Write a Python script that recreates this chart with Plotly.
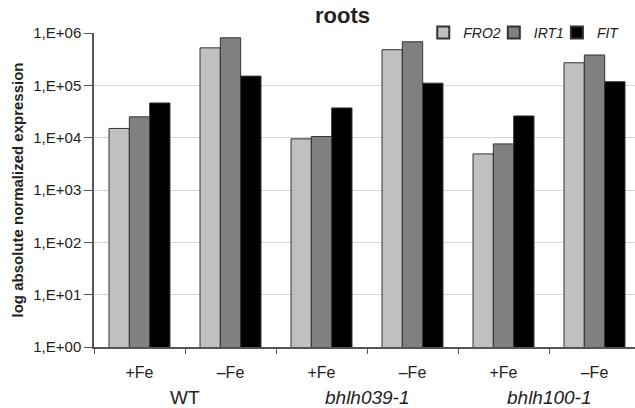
import plotly.graph_objects as go

categories = ["WT +Fe", "WT -Fe", "bhlh039-1 +Fe", "bhlh039-1 -Fe", "bhlh100-1 +Fe", "bhlh100-1 -Fe"]
tick_labels = ["+Fe", "–Fe", "+Fe", "–Fe", "+Fe", "–Fe"]
groups = ["WT", "bhlh039-1", "bhlh100-1"]
group_italic = [False, True, True]

FRO2 = [1.5e4, 5.2e5, 9.5e3, 4.8e5, 4.9e3, 2.7e5]
IRT1 = [2.5e4, 8.1e5, 1.05e4, 6.8e5, 7.6e3, 3.8e5]
FIT = [4.6e4, 1.5e5, 3.7e4, 1.1e5, 2.6e4, 1.17e5]

series = [("FRO2", FRO2, "#c0c0c0"), ("IRT1", IRT1, "#808080"), ("FIT", FIT, "#000000")]

ytick_vals = [1, 10, 100, 1e3, 1e4, 1e5, 1e6]
ytick_text = ["1,E+00", "1,E+01", "1,E+02", "1,E+03", "1,E+04", "1,E+05", "1,E+06"]

FONT = "Liberation Sans, Arial, sans-serif"

fig = go.Figure()
for name, vals, col in series:
    fig.add_trace(go.Bar(
        x=categories, y=vals, name=name,
        marker=dict(color=col, line=dict(color="#333333", width=1)),
    ))

fig.update_layout(
    width=635, height=408,
    margin=dict(l=94, r=0, t=33, b=61),
    paper_bgcolor="white", plot_bgcolor="white",
    barmode="group", bargap=0.33, bargroupgap=0,
    font=dict(family=FONT, color="#222222"),
    showlegend=True,
    legend=dict(
        orientation="h", x=0.982, xanchor="right", y=1.0, yanchor="middle",
        bgcolor="white", font=dict(size=14, style="italic", color="#222222"),
        itemwidth=30, indentation=-12,
        tracegroupgap=0, itemsizing="constant",
    ),
    xaxis=dict(
        type="category", range=[-0.5, 5.445],
        tickvals=categories, ticktext=tick_labels,
        tickson="boundaries", ticks="outside", ticklen=5, tickcolor="#555555",
        ticklabelstandoff=10,
        showline=True, linecolor="#555555", linewidth=1.5,
        showgrid=False, tickfont=dict(size=16, color="#222222"),
    ),
    yaxis=dict(
        type="log", range=[0, 6],
        tickvals=ytick_vals, ticktext=ytick_text,
        ticks="outside", ticklen=8, tickcolor="#555555",
        showline=True, linecolor="#555555", linewidth=1.5,
        showgrid=True, gridcolor="#d4d4d4", gridwidth=1,
        tickfont=dict(size=15, color="#222222"),
        title=dict(text="<b>log absolute normalized expression</b>", font=dict(size=15, color="#222222"), standoff=6),
        zeroline=False,
    ),
)

fig.add_annotation(text="<b>roots</b>", xref="paper", yref="paper", x=0.46, y=1.0,
                   yshift=18, showarrow=False, font=dict(size=22, color="#222222"),
                   xanchor="center", yanchor="middle")

for i, (g, it) in enumerate(zip(groups, group_italic)):
    fig.add_annotation(
        text=g, xref="x", yref="paper", x=2 * i + 0.5, y=0, yshift=-50,
        showarrow=False, xanchor="center", yanchor="middle",
        font=dict(size=19, color="#222222", style="italic" if it else "normal"),
    )

fig.write_html("out.html")
